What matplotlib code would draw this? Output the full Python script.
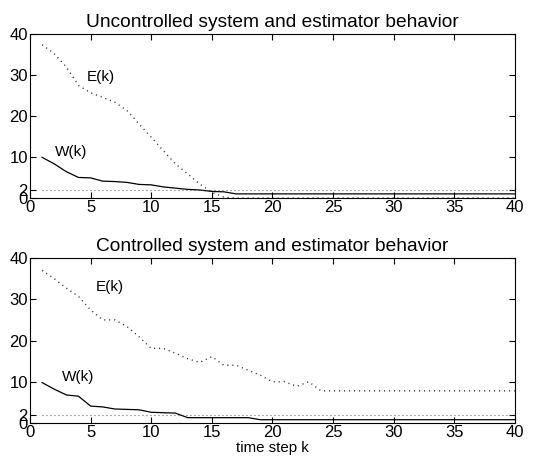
import numpy as np
import matplotlib
matplotlib.use("Agg")
import matplotlib.pyplot as plt

plt.rcParams['font.family'] = ['Liberation Sans', 'DejaVu Sans']

k = np.arange(1, 41)

# uncontrolled
W_unc = [9.9, 8.3, 6.4, 5.0, 4.9, 4.1, 4.0, 3.8, 3.3, 3.2, 2.7, 2.4, 2.1, 1.95, 1.6, 1.5] + [1.0] * 24
E_unc = [37.3, 35.1, 31.9, 27.4, 25.6, 24.5, 23.3, 21.3, 18.0, 14.8, 11.5, 8.3, 5.9, 3.4, 1.4, 0.2] + [0.0] * 24

# controlled
W_con = [9.8, 8.2, 6.8, 6.5, 4.1, 3.9, 3.4, 3.3, 3.2, 2.6, 2.5, 2.4, 1.3, 1.3, 1.3, 1.3, 1.3, 1.3] + [0.8] * 22
E_con = [37.0, 35.0, 32.7, 30.7, 27.4, 25.0, 25.0, 23.4, 20.9, 18.1, 18.1, 16.9, 15.6, 14.7, 16.1,
         14.0, 14.0, 12.8, 11.6, 10.0, 10.0, 8.9, 10.0] + [7.8] * 17

threshold = 2
yticks = [0, 2, 10, 20, 30, 40]
xticks = [0, 5, 10, 15, 20, 25, 30, 35, 40]

fig = plt.figure(figsize=(5.33, 4.61), dpi=100)
ax1 = fig.add_axes([0.0563, 0.5705, 0.9097, 0.3565])
ax2 = fig.add_axes([0.0563, 0.0824, 0.9097, 0.3579])

dot = (0, (0.8, 2.8))

def draw(ax, W, E, title, elab, wlab):
    ax.plot(k, W, color='black', lw=0.9)
    ax.plot(k, E, color='#333333', lw=1.0, linestyle=dot)
    ax.plot(k, [threshold] * len(k), color='#444444', lw=0.8, linestyle=dot)
    ax.set_xlim(0, 40)
    ax.set_ylim(0, 40)
    ax.set_xticks(xticks)
    ax.set_yticks(yticks)
    ax.tick_params(direction='in', top=True, right=True, length=4, labelsize=12, pad=1.5)
    for s in ax.spines.values():
        s.set_linewidth(0.8)
    ax.set_title(title, fontsize=13.8, pad=5)
    ax.text(elab[0], elab[1], 'E(k)', fontsize=11, va='center')
    ax.text(wlab[0], wlab[1], 'W(k)', fontsize=11, va='center')

draw(ax1, W_unc, E_unc, 'Uncontrolled system and estimator behavior', (4.7, 29.4), (2.05, 11.1))
draw(ax2, W_con, E_con, 'Controlled system and estimator behavior', (5.4, 33.0), (2.6, 11.2))
ax2.set_xlabel('time step k', fontsize=10.8, labelpad=0.5)

fig.savefig('out.png', dpi=100)
